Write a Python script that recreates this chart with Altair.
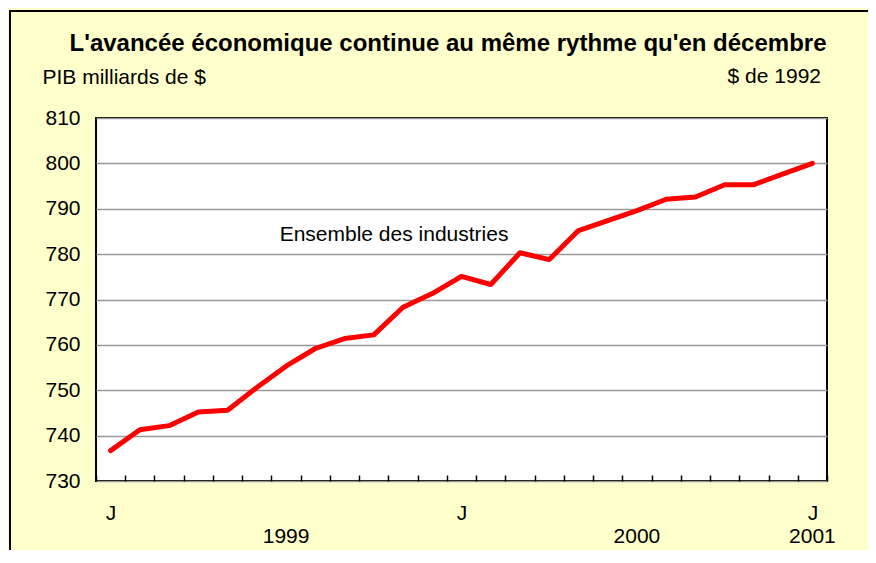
import altair as alt
import pandas as pd

# ---- data ----
months = list(range(25))  # Jan 1999 .. Jan 2001
values = [736.7, 741.3, 742.2, 745.2, 745.6, 750.6, 755.3, 759.2, 761.4, 762.2,
          768.3, 771.3, 775.1, 773.3, 780.3, 778.8, 785.2, 787.4, 789.6, 792.1,
          792.6, 795.3, 795.3, 797.7, 800.0]
year_pos = [6, 18, 24]
year_txt = ["1999", "2000", "2001"]
y_ticks = [730, 740, 750, 760, 770, 780, 790, 800, 810]
series_label = ["Ensemble des industries"]
series_label_pos = [10]
series_label_val = [784.3]

TITLE = "L'avancée économique continue au même rythme qu'en décembre"
Y_TITLE = "PIB milliards de $"
UNIT = "$ de 1992"

W, H = 731, 363
FONT = "Liberation Sans"

df = pd.DataFrame({"m": months, "v": values})
df_years = pd.DataFrame({"m": year_pos, "t": year_txt})
df_lab = pd.DataFrame({"m": series_label_pos, "v": series_label_val, "t": series_label})

xscale = alt.Scale(type="band", paddingInner=0, paddingOuter=0, domain=months)
xaxis = alt.Axis(title=None, labelExpr="datum.value % 12 == 0 ? 'J' : ''",
                 labelAngle=0, tickBand="extent", offset=-6, tickSize=6,
                 tickColor="black", tickWidth=1.5, domain=False, grid=False,
                 labelFontSize=21, labelPadding=21, labelColor="black",
                 labelOverlap=False, labelFlush=False)
X = alt.X("m:O", scale=xscale, axis=xaxis, bandPosition=0.5)

yscale = alt.Scale(domain=[730, 810], nice=False, zero=False)
yaxis = alt.Axis(values=y_ticks, title=Y_TITLE, titleAngle=0, titleAlign="left",
                 titleBaseline="middle", titleX=-54, titleY=-41, titleFontSize=21,
                 titleFontWeight="normal", titleColor="black",
                 labelFontSize=21, labelPadding=16, labelColor="black",
                 ticks=False, domain=False, grid=True,
                 gridColor="#999999", gridWidth=1.5)
Y = alt.Y("v:Q", scale=yscale, axis=yaxis)

line = alt.Chart(df).mark_line(color="#FF0000", strokeWidth=5,
                               strokeCap="round", strokeJoin="round").encode(x=X, y=Y)

label = alt.Chart(df_lab).mark_text(fontSize=21, dx=-9, align="center",
                                     baseline="middle", color="black").encode(
    x=X, y=Y, text="t:N")

years = alt.Chart(df_years).mark_text(fontSize=21, align="center",
                                       baseline="middle", color="black").encode(
    x=X, y=alt.value(H + 56), text="t:N")

unit = alt.Chart(df_lab).mark_text(fontSize=21, align="right", baseline="middle",
                                    color="black", text=UNIT).encode(
    x=alt.value(725), y=alt.value(-41))

title = alt.Chart(df_lab).mark_text(fontSize=24, fontWeight="bold", align="center",
                                     baseline="middle", color="black", text=TITLE).encode(
    x=alt.value(352), y=alt.value(-74))

frame = alt.Chart(df_lab).mark_rect(fillOpacity=0, stroke="black", strokeWidth=2).encode(
    x=alt.value(-86), x2=alt.value(W + 120), y=alt.value(-107), y2=alt.value(H + 150))

chart = alt.layer(line, label, years, unit, title, frame).properties(
    width=W, height=H,
    autosize=alt.AutoSizeParams(type="none"),
    padding={"left": 88, "top": 110, "right": 41, "bottom": 69},
    background="#FFFFCC",
).configure(font=FONT).configure_view(stroke="black", strokeWidth=2, fill="white")

chart.save("out.html", embed_options={"renderer": "svg", "actions": False})
